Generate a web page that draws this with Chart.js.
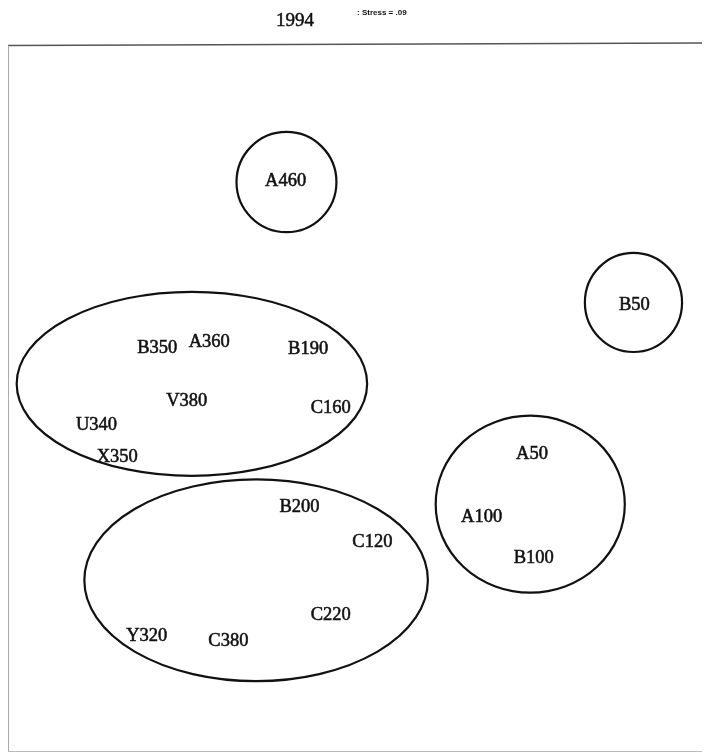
<!DOCTYPE html>
<html>
<head>
<meta charset="utf-8">
<script src="https://cdn.jsdelivr.net/npm/chart.js@4.4.1/dist/chart.umd.min.js"></script>
<style>
html,body{margin:0;padding:0;background:#fff;}
#wrap{width:714px;height:756px;}
</style>
</head>
<body>
<div id="wrap"><canvas id="c" width="714" height="756"></canvas></div>
<script>
// MDS configuration, 1994 (dimension units)
const pointLabels = ["A460","B50","B350","A360","B190","V380","C160","U340","X350","B200","C120","C220","Y320","C380","A50","A100","B100"];
const dim1 = [-0.40, 1.61, -1.14, -0.84, -0.27, -0.97, -0.14, -1.49, -1.37, -0.32, 0.10, -0.14, -1.20, -0.73, 1.02, 0.73, 1.03];
const dim2 = [1.23, 0.53, 0.29, 0.32, 0.28, -0.01, -0.05, -0.15, -0.33, -0.61, -0.81, -1.22, -1.34, -1.37, -0.31, -0.67, -0.90];

// cluster ellipses (centre and semi-axes, dimension units)
const clusterCx = [-0.395, 1.605, -0.94, -0.57, 1.01];
const clusterCy = [1.22, 0.54, 0.08, -1.03, -0.60];
const clusterRx = [0.288, 0.28, 1.01, 0.99, 0.545];
const clusterRy = [0.283, 0.28, 0.52, 0.57, 0.50];

const titleText = "1994";
const stressText = ": Stress = .09";

const points = dim1.map((x, i) => ({x: x, y: dim2[i], label: pointLabels[i]}));

const mdsPlugin = {
  id: 'mds',
  beforeDatasetsDraw(chart) {
    const ctx = chart.ctx;
    const a = chart.chartArea;
    ctx.save();
    // frame
    ctx.lineWidth = 1.3;
    ctx.strokeStyle = '#555';
    ctx.beginPath(); ctx.moveTo(a.left, a.top + 1.5); ctx.lineTo(a.right, a.top - 1); ctx.stroke();
    ctx.lineWidth = 1;
    ctx.strokeStyle = '#aaa';
    ctx.beginPath(); ctx.moveTo(a.left + 0.5, a.top + 1.5); ctx.lineTo(a.left + 0.5, a.bottom); ctx.stroke();
    ctx.strokeStyle = '#bbb';
    ctx.beginPath(); ctx.moveTo(a.left, a.bottom - 0.5); ctx.lineTo(a.right, a.bottom - 0.5); ctx.stroke();
    // ellipses
    const xs = chart.scales.x, ys = chart.scales.y;
    ctx.strokeStyle = '#111';
    ctx.lineWidth = 2.2;
    for (let i = 0; i < clusterCx.length; i++) {
      const cx = xs.getPixelForValue(clusterCx[i]);
      const cy = ys.getPixelForValue(clusterCy[i]);
      const rx = Math.abs(xs.getPixelForValue(clusterCx[i] + clusterRx[i]) - cx);
      const ry = Math.abs(ys.getPixelForValue(clusterCy[i] + clusterRy[i]) - cy);
      ctx.beginPath();
      ctx.ellipse(cx, cy, rx, ry, 0, 0, Math.PI * 2);
      ctx.stroke();
    }
    // titles
    ctx.fillStyle = '#111';
    ctx.strokeStyle = '#111';
    ctx.textAlign = 'center';
    ctx.textBaseline = 'middle';
    ctx.font = '19px "Liberation Serif", "Times New Roman", serif';
    ctx.lineWidth = 0.5;
    ctx.fillText(titleText, 295, 21);
    ctx.strokeText(titleText, 295, 21);
    ctx.font = 'bold 8px "Liberation Sans", Arial, sans-serif';
    ctx.textAlign = 'left';
    ctx.fillText(stressText, 357, 13);
    ctx.restore();
  },
  afterDatasetsDraw(chart) {
    const ctx = chart.ctx;
    const meta = chart.getDatasetMeta(0);
    ctx.save();
    ctx.fillStyle = '#111';
    ctx.strokeStyle = '#111';
    ctx.lineWidth = 0.55;
    ctx.textAlign = 'center';
    ctx.textBaseline = 'middle';
    ctx.font = '18.5px "Liberation Serif", "Times New Roman", serif';
    meta.data.forEach((el, i) => {
      ctx.fillText(points[i].label, el.x, el.y + 1);
      ctx.strokeText(points[i].label, el.x, el.y + 1);
    });
    ctx.restore();
  }
};

new Chart(document.getElementById('c'), {
  type: 'scatter',
  data: {
    datasets: [{
      data: points,
      pointRadius: 0,
      pointHoverRadius: 0,
      showLine: false
    }]
  },
  options: {
    responsive: false,
    animation: false,
    events: [],
    layout: {padding: {left: 8, right: 12, top: 44, bottom: 4}},
    plugins: {legend: {display: false}, tooltip: {enabled: false}, title: {display: false}},
    scales: {
      x: {type: 'linear', min: -2, max: 2, display: false},
      y: {type: 'linear', min: -2, max: 2, display: false}
    }
  },
  plugins: [mdsPlugin]
});
</script>
</body>
</html>
